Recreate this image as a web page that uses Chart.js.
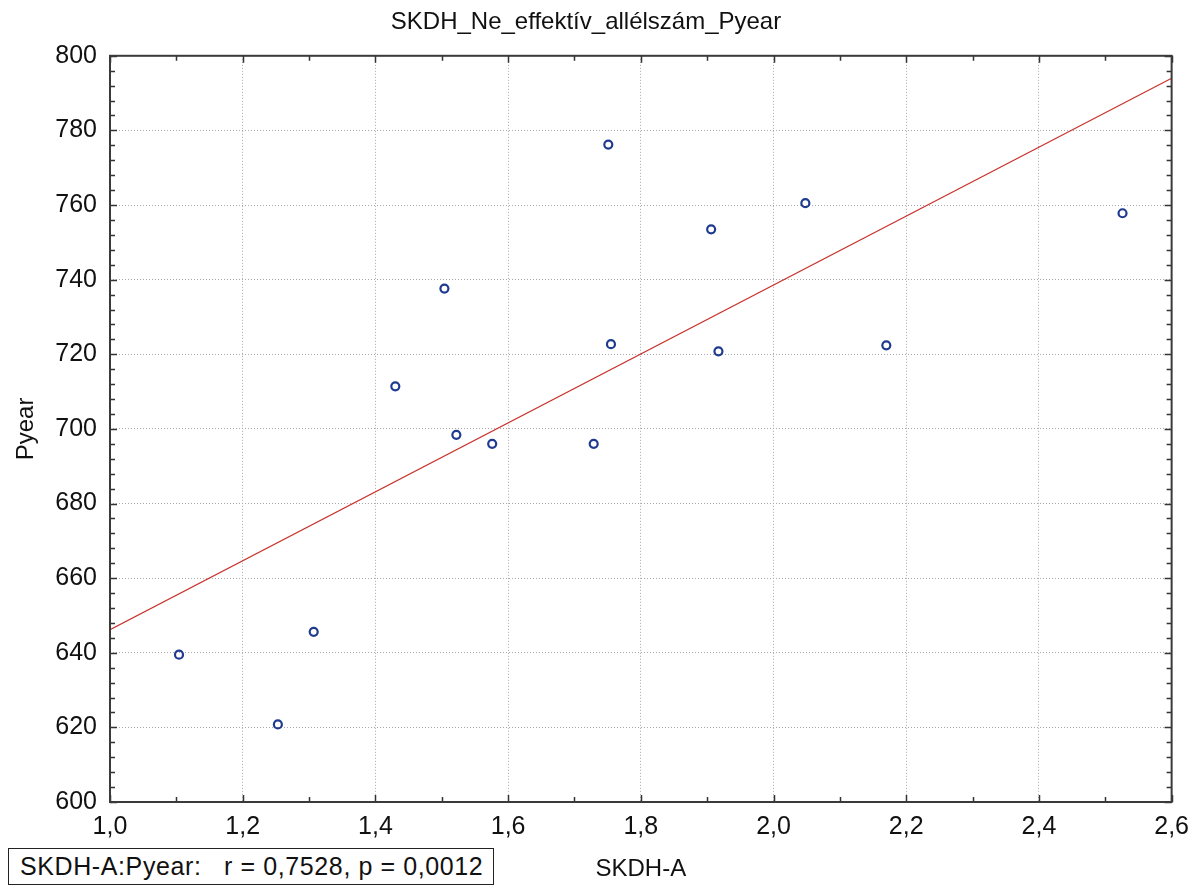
<!DOCTYPE html>
<html>
<head>
<meta charset="utf-8">
<script src="https://cdn.jsdelivr.net/npm/chart.js@4.4.1/dist/chart.umd.min.js"></script>
<style>
  html, body { margin: 0; padding: 0; background: #fff; }
  #wrap { position: relative; width: 1199px; height: 886px; }
  canvas { display: block; }
  #stat {
    position: absolute; left: 8px; top: 848px; width: 486px; height: 37px;
    box-sizing: border-box; border: 1px solid #222; background: #fff;
    font-family: "Liberation Sans", Arial, sans-serif; font-size: 25px; color: #111;
    line-height: 35px; padding-left: 11px; white-space: pre; letter-spacing: 0.6px;
  }
</style>
</head>
<body>
<div id="wrap">
  <canvas id="c" width="1199" height="886"></canvas>
  <div id="stat">SKDH-A:Pyear:   r = 0,7528, p = 0,0012</div>
</div>
<script>
// ---- data ----
const chartTitle = "SKDH_Ne_effektív_allélszám_Pyear";
const xTitle = "SKDH-A";
const yTitle = "Pyear";
const skdhA = [1.104, 1.253, 1.307, 1.430, 1.504, 1.522, 1.576, 1.729, 1.751, 1.755, 1.906, 1.917, 2.048, 2.170, 2.526];
const pyear = [639.5, 620.8, 645.6, 711.4, 737.6, 698.4, 696.0, 696.0, 776.2, 722.7, 753.5, 720.8, 760.5, 722.4, 757.8];
const fitX = [1.0, 2.6];
const fitY = [646.2, 794.0];
const xRange = [1.0, 2.6];
const yRange = [600, 800];
const xStep = 0.2;
const yStep = 20;
const xMinorStep = 0.1;
const yMinorStep = 4;

const FONT = "'Liberation Sans', Arial, sans-serif";

const framePlugin = {
  id: 'frame',
  afterDatasetsDraw(chart) {
    const { ctx, chartArea: { left, right, top, bottom }, scales: { x, y } } = chart;
    ctx.save();
    ctx.strokeStyle = '#333';
    ctx.lineWidth = 1.5;
    const nx = Math.round((xRange[1] - xRange[0]) / xMinorStep);
    for (let i = 0; i <= nx; i++) {
      const v = xRange[0] + i * xMinorStep;
      const px = Math.round(x.getPixelForValue(v)) + 0.5;
      const len = (i % 2 === 0) ? 7 : 5;
      ctx.beginPath();
      ctx.moveTo(px, bottom); ctx.lineTo(px, bottom - len);
      ctx.moveTo(px, top); ctx.lineTo(px, top + len);
      ctx.stroke();
    }
    const ny = Math.round((yRange[1] - yRange[0]) / yMinorStep);
    for (let i = 0; i <= ny; i++) {
      const v = yRange[0] + i * yMinorStep;
      const py = Math.round(y.getPixelForValue(v)) + 0.5;
      const len = (i % 5 === 0) ? 7 : 5;
      ctx.beginPath();
      ctx.moveTo(left, py); ctx.lineTo(left + len, py);
      ctx.moveTo(right, py); ctx.lineTo(right - len, py);
      ctx.stroke();
    }
    ctx.strokeStyle = '#3a3a3a';
    ctx.lineWidth = 2;
    ctx.strokeRect(left, top, right - left, bottom - top);
    ctx.restore();
  }
};

new Chart(document.getElementById('c'), {
  type: 'scatter',
  data: {
    datasets: [
      {
        label: 'fit',
        type: 'line',
        data: fitX.map((v, i) => ({ x: v, y: fitY[i] })),
        borderColor: '#c8322c',
        borderWidth: 1.2,
        pointRadius: 0,
        fill: false,
        tension: 0,
        order: 2
      },
      {
        label: 'points',
        data: skdhA.map((v, i) => ({ x: v, y: pyear[i] })),
        pointRadius: 4,
        pointBorderWidth: 2.2,
        pointBorderColor: '#1f3b8f',
        pointBackgroundColor: 'rgba(255,255,255,0)',
        showLine: false,
        order: 1
      }
    ]
  },
  options: {
    responsive: false,
    animation: false,
    layout: { padding: { left: 0, right: 27, top: 0, bottom: 0 } },
    plugins: {
      legend: { display: false },
      tooltip: { enabled: false },
      title: {
        display: true,
        text: chartTitle,
        color: '#111',
        font: { family: FONT, size: 24, weight: 'normal' },
        padding: { top: 8, bottom: 19 }
      }
    },
    scales: {
      x: {
        type: 'linear',
        min: xRange[0], max: xRange[1],
        afterFit(s) { s.height = 84; },
        border: { display: false, dash: [1, 2] },
        grid: { color: '#a8a8a8', lineWidth: 1, drawTicks: false },
        ticks: {
          stepSize: xStep,
          padding: 10,
          color: '#111',
          font: { family: FONT, size: 25 },
          callback: v => Number(v).toFixed(1).replace('.', ',')
        },
        title: {
          display: true, text: xTitle, color: '#111',
          font: { family: FONT, size: 24 },
          padding: { top: 0, bottom: 2 }
        }
      },
      y: {
        type: 'linear',
        min: yRange[0], max: yRange[1],
        afterFit(s) { s.width = 110; },
        border: { display: false, dash: [1, 2] },
        grid: { color: '#a8a8a8', lineWidth: 1, drawTicks: false },
        ticks: {
          stepSize: yStep,
          padding: 13,
          color: '#111',
          font: { family: FONT, size: 25 },
          callback: v => String(Math.round(v))
        },
        title: {
          display: true, text: yTitle, color: '#111',
          font: { family: FONT, size: 24 },
          padding: { top: 12, bottom: 0 }
        }
      }
    }
  },
  plugins: [framePlugin]
});
</script>
</body>
</html>
